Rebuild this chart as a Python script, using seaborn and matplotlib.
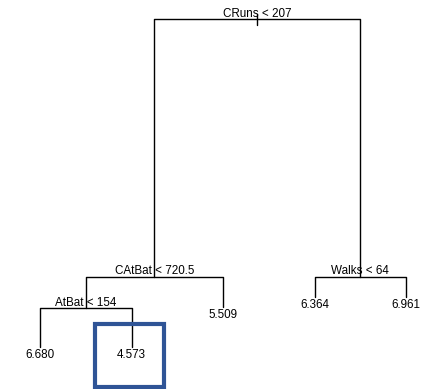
import matplotlib
matplotlib.use("Agg")
import matplotlib.pyplot as plt
from matplotlib.patches import Rectangle
import seaborn as sns
import pandas as pd

# Regression tree: split rules, leaf predictions and node heights (deviance scale)
split_labels = ["CRuns < 207", "CAtBat < 720.5", "AtBat < 154", "Walks < 64"]
split_heights = [370, 112, 81, 112]
leaf_values = [6.680, 4.573, 5.509, 6.364, 6.961]
leaf_heights = [42, 42, 82, 92, 92]
highlight_leaf = 1  # index into leaf_values

# Tree topology: (split index, left child, right child); ints are leaf indices
tree = (0, (1, (2, 0, 1), 2), (3, 3, 4))

sns.set_theme(style="white")
plt.rcParams["font.family"] = ["Liberation Sans", "DejaVu Sans"]

fig = plt.figure(figsize=(4.31, 3.89), dpi=100)
ax = fig.add_axes([0, 0, 1, 1])
ax.set_xlim(1 - 40 / 91.5, 5 + 25 / 91.5)
ax.set_ylim(0, 389)
ax.axis("off")

segments = []
texts = []


def layout(node):
    """Return (x, y) of a node and collect its drawing segments."""
    if isinstance(node, int):
        x = node + 1
        y = leaf_heights[node]
        texts.append((x, y, f"{leaf_values[node]:.3f}", "leaf"))
        return x, y
    s, left, right = node
    lx, ly = layout(left)
    rx, ry = layout(right)
    x = (lx + rx) / 2
    y = split_heights[s]
    segments.append([(lx, ly), (lx, y), (rx, y), (rx, ry)])
    texts.append((x, y, split_labels[s], "split"))
    return x, y


root_x, root_y = layout(tree)
segments.append([(root_x, root_y + 5), (root_x, root_y - 6)])

rows = []
for sid, pts in enumerate(segments):
    for order, (x, y) in enumerate(pts):
        rows.append({"seg": sid, "order": order, "x": x, "y": y})
df = pd.DataFrame(rows)

sns.lineplot(data=df, x="x", y="y", units="seg", estimator=None, sort=False,
             color="black", linewidth=1.0, ax=ax, legend=False)

for x, y, label, kind in texts:
    if kind == "split":
        ax.text(x, y + 2.5, label, ha="center", va="baseline", fontsize=8.4,
                color="black")
    else:
        ax.text(x, y - 11, label, ha="center", va="baseline", fontsize=8.4,
                color="black")

# Highlight box around the selected terminal node
hx = highlight_leaf + 1
ax.add_patch(Rectangle((hx - 0.404, 2), 0.754, 63, fill=False,
                       edgecolor="#2f5496", linewidth=3.0, zorder=5))

fig.savefig("out.png", dpi=100)
